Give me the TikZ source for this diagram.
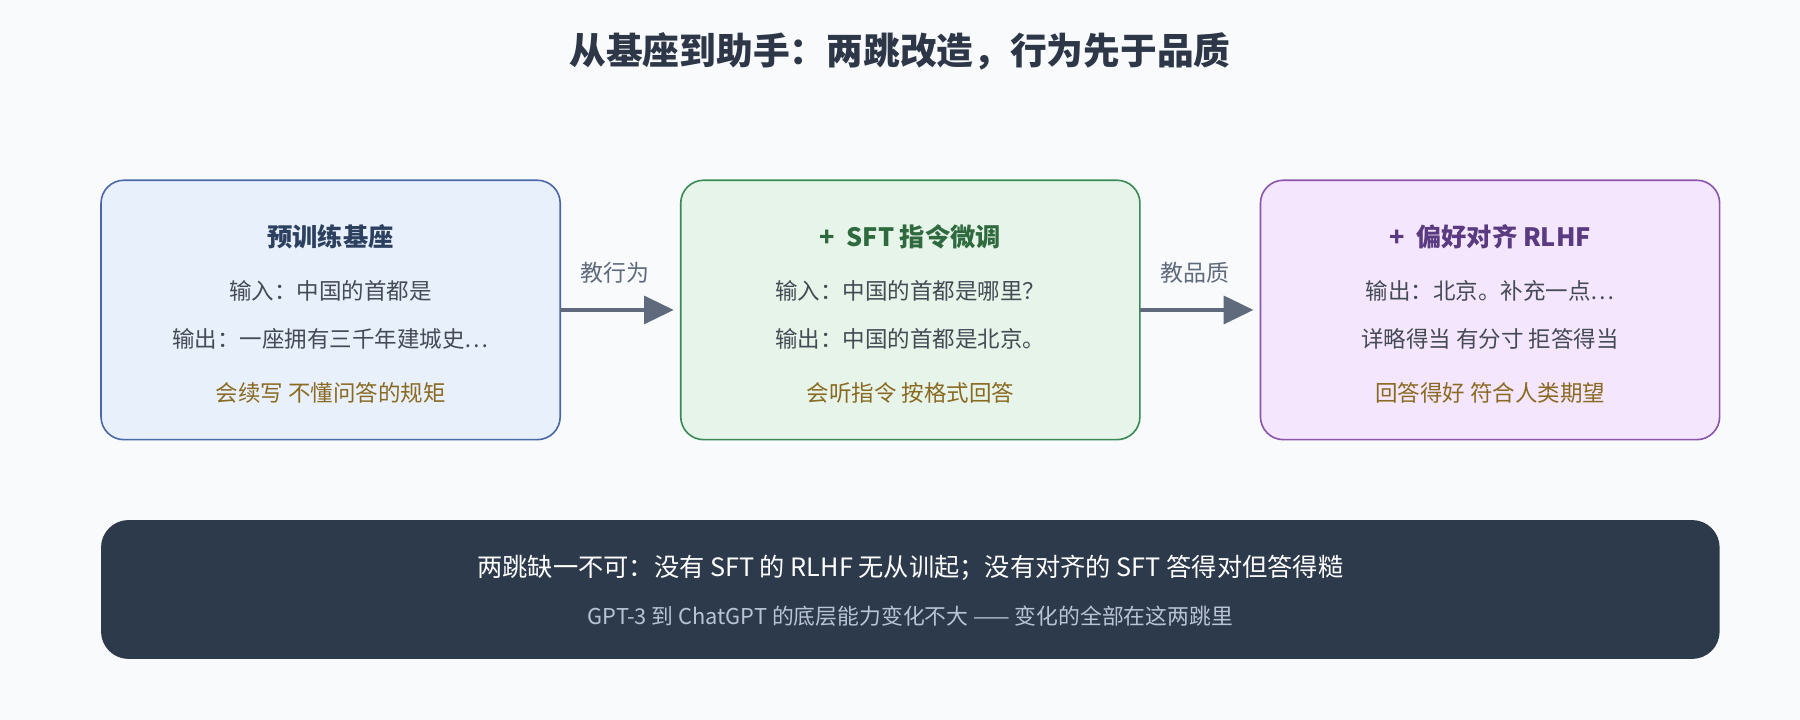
\documentclass[tikz,border=0pt]{standalone}
\usepackage{fontspec}
\setmainfont{Noto Sans CJK SC}
\usetikzlibrary{arrows.meta}
\definecolor{bg}{HTML}{F8FAFC}
\definecolor{ink}{HTML}{2D3748}
\definecolor{body}{HTML}{454B55}
\definecolor{gold}{HTML}{8A6A22}
\definecolor{arr}{HTML}{5F6B7D}
\definecolor{bottom}{HTML}{2D3A4B}
\definecolor{sub}{HTML}{B8C4D6}
\definecolor{fA}{HTML}{E8F0FC}\definecolor{dA}{HTML}{4A68A8}\definecolor{tA}{HTML}{2C4060}
\definecolor{fB}{HTML}{E6F4E9}\definecolor{dB}{HTML}{3A8A55}\definecolor{tB}{HTML}{2E6A3E}
\definecolor{fC}{HTML}{F4E6FC}\definecolor{dC}{HTML}{8A55AA}\definecolor{tC}{HTML}{5A3A80}
\begin{document}
\begin{tikzpicture}[x=0.5pt,y=-0.5pt,
  box/.style={rounded corners=10pt,line width=0.7pt},
  ttl/.style={font=\fontsize{11}{13}\selectfont\bfseries},
  txt/.style={font=\fontsize{9.8}{12}\selectfont,text=body},
  note/.style={font=\fontsize{9.8}{12}\selectfont,text=gold},
  lbl/.style={font=\fontsize{10}{12}\selectfont,text=arr},
  conn/.style={draw=arr,line width=2pt,-{Triangle[length=13pt,width=12pt]}}]
\fill[bg] (0,0) rectangle (1568,627);
\useasboundingbox (0,0) rectangle (1568,627);
\node[font=\fontsize{16}{19}\selectfont\bfseries,text=ink] (title) at (784,45) {从基座到助手：两跳改造，行为先于品质};
% boxes
\draw[box,fill=fA,draw=dA] (88,157) rectangle (488,383);
\coordinate (b1) at (488,270);
\draw[box,fill=fB,draw=dB] (593,157) rectangle (993,383);
\coordinate (b2w) at (587,270); \coordinate (b2e) at (993,270);
\draw[box,fill=fC,draw=dC] (1098,157) rectangle (1498,383);
\coordinate (b3w) at (1092,270);
% box1
\node[ttl,text=tA] (t1) at (288,206) {预训练基座};
\node[txt] (a1) at (288,253) {输入：中国的首都是};
\node[txt] (c1) at (288,295) {输出：一座拥有三千年建城史…};
\node[note] (n1) at (288,342) {会续写 不懂问答的规矩};
% box2
\node[ttl,text=tB] (t2) at (793,206) {+\ \ SFT 指令微调};
\node[txt] (a2) at (793,253) {输入：中国的首都是哪里？};
\node[txt] (c2) at (793,295) {输出：中国的首都是北京。};
\node[note] (n2) at (793,342) {会听指令 按格式回答};
% box3
\node[ttl,text=tC] (t3) at (1298,206) {+\ \ 偏好对齐 RLHF};
\node[txt] (a3) at (1298,253) {输出：北京。补充一点…};
\node[txt] (c3) at (1298,295) {详略得当 有分寸 拒答得当};
\node[note] (n3) at (1298,342) {回答得好 符合人类期望};
% arrows
\draw[conn] (b1) -- (b2w);
\node[lbl] (l1) at (536,238) {教行为};
\draw[conn] (b2e) -- (b3w);
\node[lbl] (l2) at (1041,238) {教品质};
% bottom
\fill[rounded corners=12pt,fill=bottom] (88,453) rectangle (1498,574);
\node[font=\fontsize{11}{13}\selectfont,text=white] (m1) at (793,495) {两跳缺一不可：没有 SFT 的 RLHF 无从训起；没有对齐的 SFT 答得对但答得糙};
\node[font=\fontsize{9.5}{12}\selectfont,text=sub] (m2) at (793,537) {GPT-3 到 ChatGPT 的底层能力变化不大 —— 变化的全部在这两跳里};
\end{tikzpicture}
\end{document}
